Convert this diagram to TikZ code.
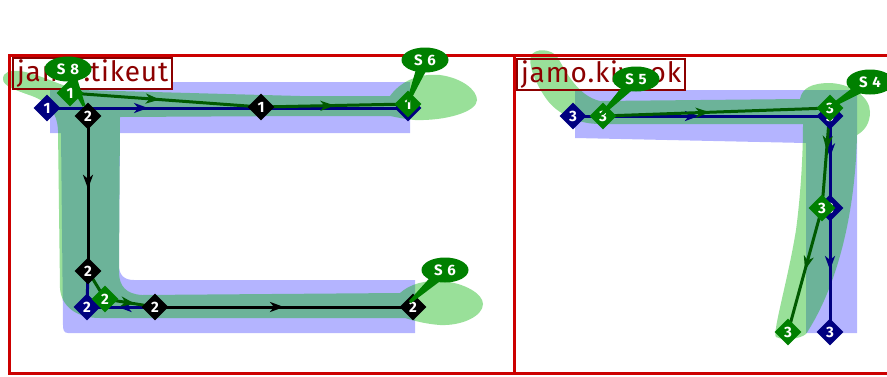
\documentclass[tikz,border=0pt]{standalone}
\usepackage{fontspec}
\setmainfont{Fira Sans}
\setsansfont{Fira Sans}
\usetikzlibrary{shapes.geometric,arrows.meta,decorations.markings,calc}
\definecolor{bandblue}{RGB}{180,180,255}
\definecolor{bandgreen}{RGB}{0,178,0}
\definecolor{framered}{RGB}{204,0,0}
\definecolor{labred}{RGB}{140,0,0}
\definecolor{navyc}{RGB}{0,0,128}
\definecolor{dgreen}{RGB}{0,90,0}
\definecolor{cgreen}{RGB}{0,128,0}
\begin{document}
\begin{tikzpicture}[x=1pt,y=-1pt,
  marr/.style={postaction={decorate},decoration={markings,mark=at position #1 with {\arrow{Stealth[length=14pt,width=10pt,inset=4pt]}}}},
  diabase/.style={diamond,aspect=1,inner sep=0pt,minimum size=27pt,text=white,font=\bfseries\fontsize{15}{15}\selectfont},
  bdia/.style={diabase,fill=navyc},
  kdia/.style={diabase,fill=black},
  gdia/.style={diabase,fill=cgreen},
  nline/.style={navyc,line width=3pt},
  kline/.style={black,line width=3pt},
  gline/.style={dgreen,line width=3pt},
  frame/.style={framered,line width=3pt},
  labbox/.style={draw=labred,line width=2pt,text=labred,anchor=north west,align=left,inner xsep=4pt,inner ysep=0pt,minimum height=31pt,font=\addfontfeatures{LetterSpace=3}\fontsize{28}{28}\selectfont},
  callout/.style={ellipse,fill=cgreen,minimum width=47pt,minimum height=25pt,inner sep=0pt,text=white,font=\bfseries\addfontfeatures{LetterSpace=8}\fontsize{15}{15}\selectfont},
  band/.style={bandgreen,opacity=0.4}
]
\useasboundingbox (0,0) rectangle (887,376);
\clip (0,0) rectangle (887,376);
% blue bands
\fill[bandblue] (50,82) -- (410,82) -- (410,133) -- (120,133) -- (119,265)
  .. controls (119,275) and (124,280) .. (134,280) -- (415,280) -- (415,333) -- (68,333)
  .. controls (64,333) and (63,330) .. (63,325) -- (61,133) -- (50,133) -- cycle;
\fill[bandblue] (575,90) -- (857,90) -- (857,333) -- (806,333) -- (806,143) -- (575,138) -- cycle;
% label backgrounds
\fill[white] (12,57) rectangle (171,88);
\fill[white] (516,58) rectangle (684,88);
% green strokes
\fill[band] (80,90) -- (300,96) -- (390,96)
 .. controls (400,82) and (418,73) .. (440,75)
 .. controls (462,78) and (477,90) .. (477,100)
 .. controls (477,112) and (445,121) .. (415,120)
 .. controls (403,119) and (396,117) .. (390,116)
 -- (300,116) -- (120,117)
 -- (119,272)
 .. controls (119,286) and (126,294) .. (142,295)
 -- (400,293)
 .. controls (410,284) and (425,280) .. (442,281)
 .. controls (465,283) and (483,294) .. (483,304)
 .. controls (483,316) and (462,326) .. (440,325)
 .. controls (426,324) and (415,321) .. (405,318)
 -- (100,318)
 .. controls (76,318) and (61,306) .. (60,288)
 -- (58,130)
 .. controls (57,112) and (48,102) .. (32,96)
 .. controls (15,90) and (3,86) .. (3,79)
 .. controls (3,72) and (10,70) .. (20,71)
 .. controls (40,74) and (60,86) .. (80,90) -- cycle;
\fill[band] (600,101) -- (800,99)
 .. controls (802,88) and (812,83) .. (830,83)
 .. controls (853,84) and (870,98) .. (870,112)
 .. controls (870,124) and (864,131) .. (857,135)
 .. controls (855,220) and (835,290) .. (806,334)
 .. controls (800,339) and (784,341) .. (776,337)
 .. controls (772,333) and (788,280) .. (796,230)
 .. controls (800,200) and (803,160) .. (803,124)
 -- (600,124)
 .. controls (575,124) and (555,112) .. (545,97)
 .. controls (535,82) and (528,65) .. (531,56)
 .. controls (534,48) and (552,48) .. (558,58)
 .. controls (566,72) and (578,96) .. (600,101) -- cycle;
% frames
\draw[frame] (9,55) rectangle (514,373);
\draw[frame] (514,55) rectangle (900,373);
\node[labbox,text width=151pt] (lab1) at (12,57) {jamo.tikeut};
\node[labbox,text width=160pt] (lab2) at (516,58) {jamo.kiyeok};
% skeleton points
\coordinate (pb1a) at (47,108);
\coordinate (pb1b) at (408,108);
\coordinate (pk1) at (261,107);
\coordinate (pg1a) at (70,93);
\coordinate (pg1b) at (408,104);
\coordinate (pk2a) at (88,116);
\coordinate (pk2b) at (88,271);
\coordinate (pg2) at (105,299);
\coordinate (pb2) at (87,307);
\coordinate (pk2c) at (155,307);
\coordinate (pk2d) at (413,307);
\coordinate (pb3a) at (573,116);
\coordinate (pg3a) at (603,116);
\coordinate (pb3b) at (830,116);
\coordinate (pg3b) at (830,108);
\coordinate (pb3c) at (830,208);
\coordinate (pg3c) at (822,208);
\coordinate (pb3d) at (830,332);
\coordinate (pg3d) at (788,332);
% navy lines
\draw[nline,marr=0.28] (pb1a) -- (pb1b);
\draw[nline,marr=0.55] (pk2c) -- (pb2);
\draw[nline] (pb2) -- (pk2b);
\draw[nline,marr=0.49] (pb3a) -- (pb3b);
\draw[nline,marr=0.45] (pb3b) -- (pb3c);
\draw[nline,marr=0.5] (pb3c) -- (pb3d);
% black lines
\draw[kline,marr=0.47] (pk2a) -- (pk2b);
\draw[kline,marr=0.5] (pk2c) -- (pk2d);
% green lines
\draw[gline,marr=0.47] (pg1a) -- (pk1);
\draw[gline,marr=0.5] (pk1) -- (pg1b);
\draw[gline] (pk2b) -- (pg2);
\draw[gline,marr=0.6] (pg2) -- (pk2c);
\draw[gline,marr=0.47] (pg3a) -- (pg3b);
\draw[gline,marr=0.42] (pg3b) -- (pg3c);
\draw[gline,marr=0.5] (pg3c) -- (pg3d);
% diamonds
\node[bdia] (b1a) at (pb1a) {1};
\node[bdia] (b1b) at (pb1b) {1};
\node[bdia] (b2) at (pb2) {2};
\node[bdia] (b3a) at (pb3a) {3};
\node[bdia] (b3b) at (pb3b) {3};
\node[bdia] (b3c) at (pb3c) {3};
\node[bdia] (b3d) at (pb3d) {3};
\node[kdia] (k1) at (pk1) {1};
\node[kdia] (k2a) at (pk2a) {2};
\node[kdia] (k2b) at (pk2b) {2};
\node[kdia] (k2c) at (pk2c) {2};
\node[kdia] (k2d) at (pk2d) {2};
\node[gdia] (g1a) at (pg1a) {1};
\node[gdia] (g1b) at (pg1b) {1};
\node[gdia] (g2) at (pg2) {2};
\node[gdia] (g3a) at (pg3a) {3};
\node[gdia] (g3b) at (pg3b) {3};
\node[gdia] (g3c) at (pg3c) {3};
\node[gdia] (g3d) at (pg3d) {3};
% callouts
\coordinate (cs8) at (68,69);
\coordinate (cs6a) at (425,60);
\coordinate (cs6b) at (445,270);
\coordinate (cs5) at (636,79);
\coordinate (cs4) at (870,82);
\coordinate (t8) at (84,106);
\coordinate (t6a) at (408,102);
\coordinate (t6b) at (410,302);
\coordinate (t5) at (602,114);
\coordinate (t4) at (830,107);
\foreach \c/\t in {cs8/t8,cs6a/t6a,cs6b/t6b,cs5/t5,cs4/t4}{
  \fill[cgreen] ($(\c)!6pt!90:(\t)$) -- ($(\c)!6pt!-90:(\t)$) -- ($(\t)!1.5pt!90:(\c)$) -- ($(\t)!1.5pt!-90:(\c)$) -- cycle;
}
\node[callout] (s8) at (cs8) {S 8};
\node[callout] (s6a) at (cs6a) {S 6};
\node[callout] (s6b) at (cs6b) {S 6};
\node[callout] (s5) at (cs5) {S 5};
\node[callout] (s4) at (cs4) {S 4};
\end{tikzpicture}
\end{document}
